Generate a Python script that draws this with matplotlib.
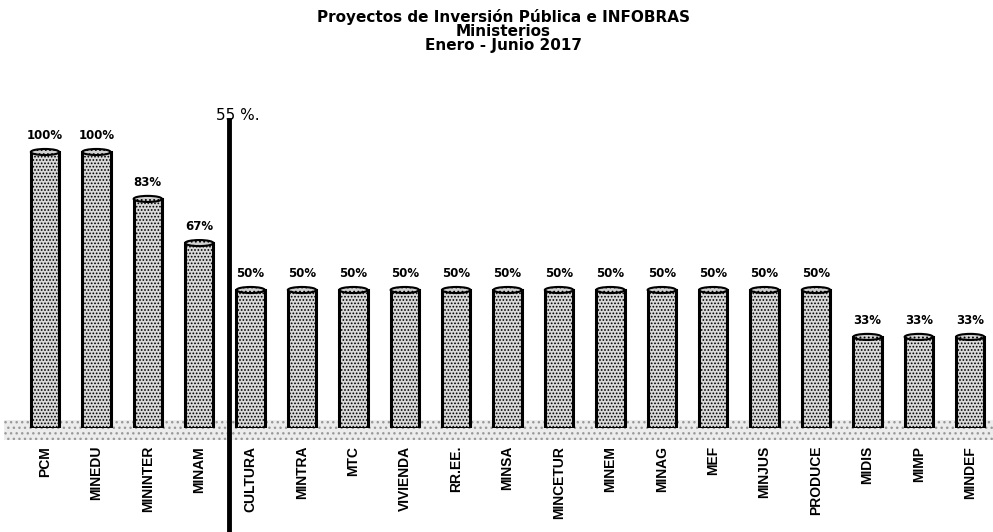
import numpy as np
import matplotlib.pyplot as plt
from matplotlib.patches import Ellipse, Polygon

# datos
ministerios = ['PCM', 'MINEDU', 'MININTER', 'MINAM', 'CULTURA', 'MINTRA', 'MTC',
               'VIVIENDA', 'RR.EE.', 'MINSA', 'MINCETUR', 'MINEM', 'MINAG', 'MEF',
               'MINJUS', 'PRODUCE', 'MIDIS', 'MIMP', 'MINDEF']
porcentajes = [100, 100, 83, 67, 50, 50, 50, 50, 50, 50, 50, 50, 50, 50, 50, 50, 33, 33, 33]
promedio = 55

W, H = 993, 532
fig = plt.figure(figsize=(W / 100, H / 100), dpi=100)

# ejes ocupando todo el ancho; base de barras en y=428 px
y0 = 428
top_px = 100
px_per_pct = (428 - 152) / 100.0
ax = fig.add_axes([0, (H - y0) / H, 1, (y0 - top_px) / H])
step = 51.4
ax.set_xlim(-45 / step, (W - 45) / step)
ax.set_ylim(0, (y0 - top_px) / px_per_pct)
ax.axis('off')

x = np.arange(len(ministerios))
bw = 0.55

# piso punteado
floor = Polygon([[-0.8, 3], [18.5, 3], [18.5, -4.5], [-0.8, -4.5]], closed=True,
                facecolor='#ececec', edgecolor='#999999', hatch='...', lw=0,
                clip_on=False, zorder=0)
ax.add_patch(floor)

plt.rcParams['hatch.linewidth'] = 0.8
bars = ax.bar(x, porcentajes, width=bw, color='#d9d9d9', edgecolor='black',
              hatch='.....', linewidth=2.2, zorder=2)
for xi, v in zip(x, porcentajes):
    ax.add_patch(Ellipse((xi, v), bw, 2.2, facecolor='#cfcfcf', edgecolor='black',
                         lw=1.5, hatch='....', zorder=3))
    ax.text(xi, v + 3.5, f'{v}%', ha='center', va='bottom', fontsize=8.5,
            fontweight='bold', family='DejaVu Sans')
    ax.text(xi, -6.5, ministerios[xi], rotation=90, ha='center', va='top',
            fontsize=10, fontweight='bold', family='Liberation Sans', clip_on=False)

# linea del promedio
xl = 3.58
ax.plot([xl, xl], [(y0 - 120) / px_per_pct, -(H - y0) / px_per_pct], color='black',
        lw=3.5, clip_on=False, zorder=4)
ax.text(xl - 0.25, (y0 - 115) / px_per_pct, f'{promedio} %.', ha='left', va='center',
        fontsize=11, family='DejaVu Sans')

fig.text(0.507, 0.984, 'Proyectos de Inversión Pública e INFOBRAS\nMinisterios\nEnero - Junio 2017',
         ha='center', va='top', fontsize=11, fontweight='bold', family='DejaVu Sans',
         linespacing=0.95)

fig.savefig('out.png', dpi=100)
